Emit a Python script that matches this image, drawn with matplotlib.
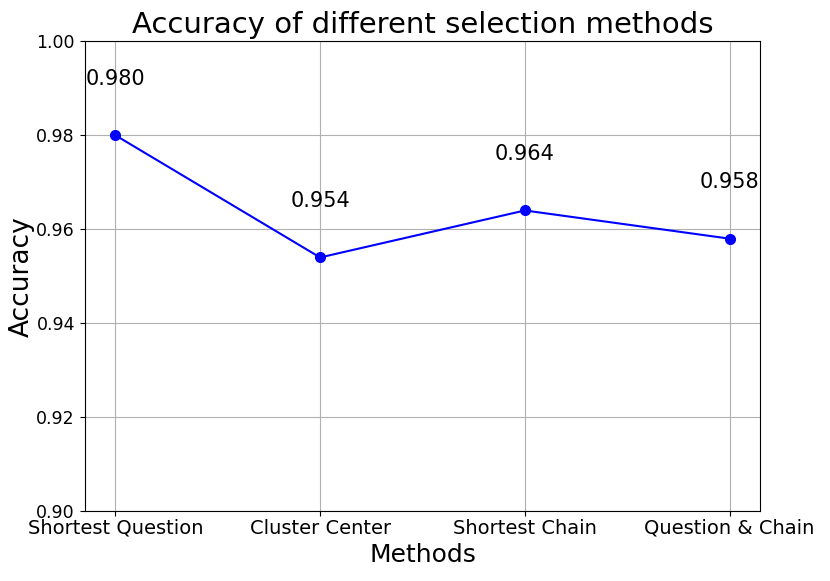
import matplotlib
matplotlib.use("Agg")
import matplotlib.pyplot as plt

methods = ["Shortest Question", "Cluster Center", "Shortest Chain", "Question & Chain"]
accuracy = [0.980, 0.954, 0.964, 0.958]

fig = plt.figure(figsize=(8.3, 5.81), dpi=100)
ax = fig.add_axes([0.102, 0.120, 0.814, 0.809])
x = list(range(len(methods)))
ax.plot(x, accuracy, color="blue", marker="o", markersize=7, linewidth=1.5)
for xi, v in zip(x, accuracy):
    ax.text(xi, v + 0.012, f"{v:.3f}", ha="center", va="center", fontsize=15)
ax.set_xticks(x)
ax.set_xticklabels(methods, fontsize=14)
ax.set_ylim(0.90, 1.00)
ax.set_yticks([0.90, 0.92, 0.94, 0.96, 0.98, 1.00])
ax.tick_params(axis="y", labelsize=12.5)
ax.tick_params(axis="x", pad=2)
ax.set_xlabel("Methods", fontsize=18, labelpad=3.5)
ax.set_ylabel("Accuracy", fontsize=19)
ax.yaxis.set_label_coords(-0.074, 0.5)
ax.set_title("Accuracy of different selection methods", fontsize=21)
ax.grid(True)
fig.savefig("out.png", dpi=100)
